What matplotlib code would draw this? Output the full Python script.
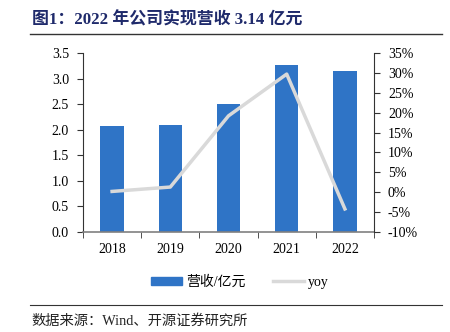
import matplotlib
matplotlib.use("Agg")
import matplotlib.pyplot as plt
from matplotlib.patches import Patch
from matplotlib.lines import Line2D
from matplotlib.ticker import FuncFormatter, MultipleLocator

years = ["2018", "2019", "2020", "2021", "2022"]
revenue = [2.07, 2.10, 2.50, 3.26, 3.14]
yoy = [0.2, 1.3, 19.2, 29.7, -4.2]

FAM = ["Liberation Serif", "Noto Sans CJK SC"]
plt.rcParams["font.family"] = FAM

fig = plt.figure(figsize=(4.5, 3.32), dpi=100)
ax = fig.add_axes([83/450, 1-232/332, (374-83)/450, (232-53)/332])
x = list(range(len(years)))
ax.bar(x, revenue, width=0.4, color="#2F74C6", zorder=2)
ax.set_xlim(-0.5, 4.5)
ax.set_ylim(0, 3.5)
ax.yaxis.set_major_locator(MultipleLocator(0.5))
ax.yaxis.set_major_formatter(FuncFormatter(lambda v, p: f"{v:.1f}"))
ax.set_xticks(x)
ax.set_xticklabels(years)
ax.set_xticks([i + 0.5 for i in range(-1, 5)], minor=True)
ax.tick_params(axis="x", which="major", length=0, pad=8, labelsize=10)
ax.tick_params(axis="x", which="minor", length=4, direction="out", color="#333333")
ax.tick_params(axis="y", length=4, direction="out", labelsize=10, color="#333333", pad=6)
for s in ["top", "right"]:
    ax.spines[s].set_visible(False)
ax.spines["left"].set_color("#333333")
ax.spines["bottom"].set_color("#808080")
ax.spines["bottom"].set_linewidth(1.2)

ax2 = ax.twinx()
ax2.plot(x, yoy, color="#D9D9D9", linewidth=2.5, zorder=3)
ax2.set_ylim(-10, 35)
ax2.yaxis.set_major_locator(MultipleLocator(5))
ax2.yaxis.set_major_formatter(FuncFormatter(lambda v, p: f"{v:.0f}%"))
ax2.tick_params(axis="y", length=4, direction="out", labelsize=10, color="#333333", pad=6)
for s in ["top", "left", "bottom"]:
    ax2.spines[s].set_visible(False)
ax2.spines["right"].set_color("#333333")

handles = [Patch(color="#2F74C6"), Line2D([0], [0], color="#D9D9D9", linewidth=2.5)]
fig.legend(handles, ["营收/亿元", "yoy"], loc="center", bbox_to_anchor=(240/450, 1-282/332),
           ncol=2, frameon=False, fontsize=10, handlelength=2.2, handleheight=0.5,
           columnspacing=2.0, handletextpad=0.3, borderaxespad=0, borderpad=0)

fig.text(32/450, 1-20/332, "图1：2022 年公司实现营收 3.14 亿元", fontsize=12.2,
         fontweight="bold", color="#1F2A6B", va="center", ha="left", family=FAM)
fig.add_artist(Line2D([30/450, 442/450], [1-34/332, 1-34/332], color="#333333", linewidth=1))
fig.add_artist(Line2D([30/450, 442/450], [1-305/332, 1-305/332], color="#333333", linewidth=0.8))
fig.text(31/450, 1-321/332, "数据来源：Wind、开源证券研究所", fontsize=10.3,
         va="center", ha="left", color="#222222", family=FAM)

fig.savefig("out.png", dpi=100)
